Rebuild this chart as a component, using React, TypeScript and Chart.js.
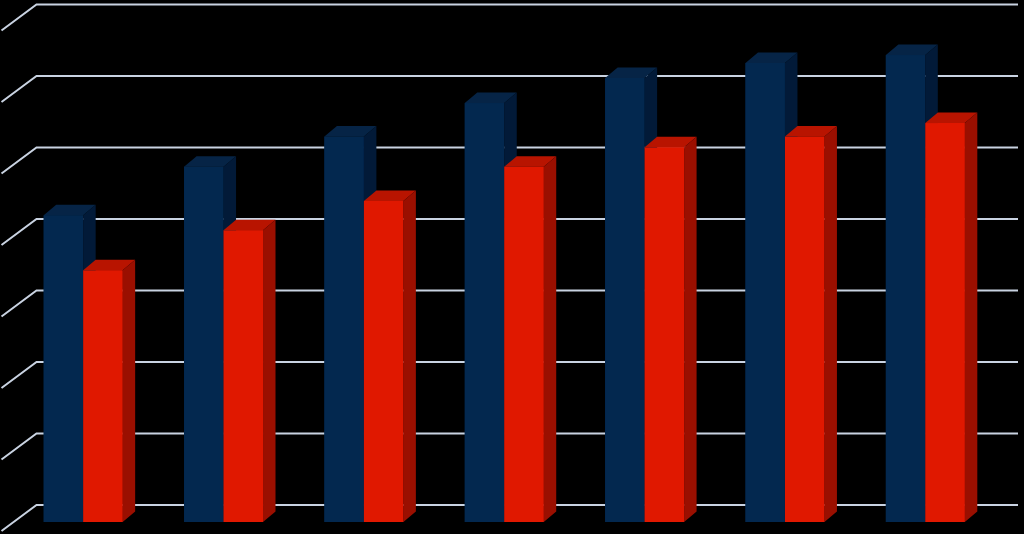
import React, { useEffect, useRef } from 'react';
import { Chart, ChartConfiguration, registerables } from 'chart.js';

Chart.register(...registerables);

// Значения (единица = одна линия сетки)
const categories = ['1', '2', '3', '4', '5', '6', '7'];
const seriesBlue = [4.29, 4.97, 5.39, 5.86, 6.21, 6.42, 6.53];
const seriesRed = [3.52, 4.08, 4.49, 4.97, 5.24, 5.39, 5.58];
const gridTicks = [0, 1, 2, 3, 4, 5, 6, 7];

const BLUE = { front: '#03284f', top: '#062446', side: '#021a38' };
const RED = { front: '#e01800', top: '#b81400', side: '#9a0f00' };

// смещение задней стенки и глубина столбиков
const WALL_DX = 23.5;
const WALL_DY = 17;
const FLOOR_DX = 35;
const FLOOR_DY = 26;
const BAR_DX = 12.5;
const BAR_DY = 10.5;

const wallPlugin = {
  id: 'wall3d',
  beforeDatasetsDraw(chart: Chart) {
    const { ctx, chartArea } = chart;
    const y = chart.scales.y;
    const left = chartArea.left + WALL_DX;
    const right = chartArea.right + WALL_DX - 1;
    ctx.save();
    ctx.strokeStyle = '#c9d3e2';
    ctx.lineWidth = 2;
    gridTicks.forEach(v => {
      const py = y.getPixelForValue(v) - WALL_DY;
      ctx.beginPath();
      ctx.moveTo(left - FLOOR_DX, py + FLOOR_DY);
      ctx.lineTo(left, py);
      ctx.lineTo(right, py);
      ctx.stroke();
    });
    ctx.restore();
  },
  afterDatasetsDraw(chart: Chart) {
    const { ctx } = chart;
    const palettes = [BLUE, RED];
    ctx.save();
    categories.forEach((_, i) => {
      palettes.forEach((pal, d) => {
        const el: any = chart.getDatasetMeta(d).data[i];
        if (!el) return;
        const { x, y, base, width } = el.getProps(['x', 'y', 'base', 'width'], true);
        const l = x - width / 2;
        const r = x + width / 2;
        // лицевая грань
        ctx.fillStyle = pal.front;
        ctx.fillRect(l, y, width, base - y);
        // верхняя грань
        ctx.fillStyle = pal.top;
        ctx.beginPath();
        ctx.moveTo(l, y);
        ctx.lineTo(l + BAR_DX, y - BAR_DY);
        ctx.lineTo(r + BAR_DX, y - BAR_DY);
        ctx.lineTo(r, y);
        ctx.closePath();
        ctx.fill();
        // боковая грань
        ctx.fillStyle = pal.side;
        ctx.beginPath();
        ctx.moveTo(r, y);
        ctx.lineTo(r + BAR_DX, y - BAR_DY);
        ctx.lineTo(r + BAR_DX, base - BAR_DY);
        ctx.lineTo(r, base);
        ctx.closePath();
        ctx.fill();
      });
    });
    ctx.restore();
  }
};

const BarChart3D: React.FC = () => {
  const chartRef = useRef<HTMLCanvasElement>(null);
  const chartInstance = useRef<Chart | null>(null);

  useEffect(() => {
    if (!chartRef.current) return;
    if (chartInstance.current) {
      chartInstance.current.destroy();
    }
    const ctx = chartRef.current.getContext('2d');
    if (!ctx) return;

    const config: ChartConfiguration = {
      type: 'bar',
      data: {
        labels: categories,
        datasets: [
          {
            label: 'Серия 1',
            data: seriesBlue,
            backgroundColor: BLUE.front,
            borderWidth: 0,
            barPercentage: 1,
            categoryPercentage: 0.5625
          },
          {
            label: 'Серия 2',
            data: seriesRed,
            backgroundColor: RED.front,
            borderWidth: 0,
            barPercentage: 1,
            categoryPercentage: 0.5625
          }
        ]
      },
      options: {
        responsive: true,
        maintainAspectRatio: false,
        animation: false,
        layout: {
          padding: { left: 13, right: 28.5, top: 21.5, bottom: 12 }
        },
        plugins: {
          legend: { display: false },
          tooltip: { enabled: false }
        },
        scales: {
          x: { display: false, grid: { display: false } },
          y: { display: false, min: 0, max: 7, grid: { display: false } }
        }
      },
      plugins: [wallPlugin]
    };

    chartInstance.current = new Chart(ctx, config);

    return () => {
      if (chartInstance.current) {
        chartInstance.current.destroy();
        chartInstance.current = null;
      }
    };
  }, []);

  return (
    <div style={{ position: 'fixed', left: 0, top: 0, width: '1024px', height: '534px', background: '#000' }}>
      <canvas ref={chartRef}></canvas>
    </div>
  );
};

export default function App() {
  return <BarChart3D />;
}
